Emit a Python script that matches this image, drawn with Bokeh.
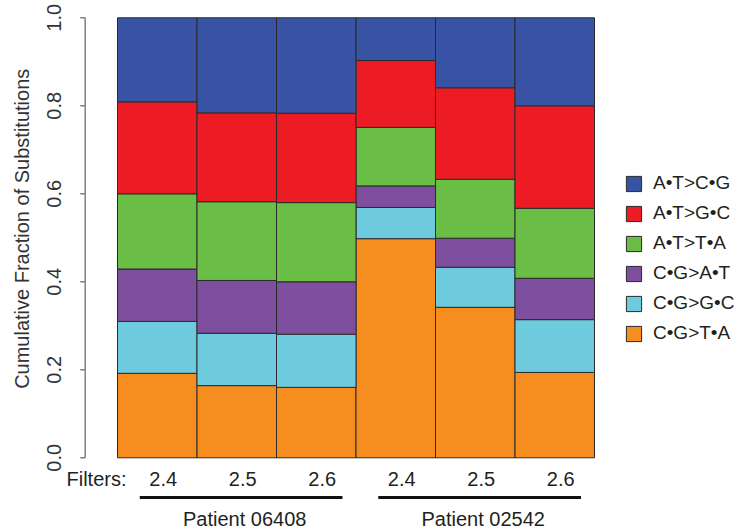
import math
from bokeh.plotting import figure
from bokeh.models import ColumnDataSource, Legend, LegendItem, Range1d
from bokeh.embed import file_html
from bokeh.resources import INLINE

# ---------------- data ----------------
patients = ["Patient 06408", "Patient 02542"]
filters = ["2.4", "2.5", "2.6", "2.4", "2.5", "2.6"]
bar_patient = [0, 0, 0, 1, 1, 1]
filter_title = "Filters:"

# stacked bottom -> top
substitutions = ["C\u2022G>T\u2022A", "C\u2022G>G\u2022C", "C\u2022G>A\u2022T",
                 "A\u2022T>T\u2022A", "A\u2022T>G\u2022C", "A\u2022T>C\u2022G"]
cg_ta = [0.192, 0.164, 0.160, 0.498, 0.342, 0.194]
cg_gc = [0.118, 0.119, 0.121, 0.071, 0.091, 0.120]
cg_at = [0.119, 0.120, 0.119, 0.049, 0.066, 0.094]
at_ta = [0.171, 0.179, 0.180, 0.133, 0.134, 0.159]
at_gc = [0.209, 0.202, 0.203, 0.152, 0.208, 0.233]
at_cg = [0.191, 0.216, 0.217, 0.097, 0.159, 0.200]

y_ticks = [0.0, 0.2, 0.4, 0.6, 0.8, 1.0]
y_tick_labels = ["0.0", "0.2", "0.4", "0.6", "0.8", "1.0"]
y_title = "Cumulative Fraction of Substitutions"

colors = ["#f68e1f", "#6dcbdd", "#7f4f9f", "#6abd45", "#ed1c24", "#3853a4"]

FONT = "Liberation Sans"
TXT = "#231f20"
AXT = "#333333"
AXC = "#808080"

# ---------------- layout constants (pixels -> data units) ----------------
PX = 1 / 79.5       # one screen pixel in x data units
PY = 1 / 440.0      # one screen pixel in y data units

xs = list(range(1, len(filters) + 1))
keys = ["cg_ta", "cg_gc", "cg_at", "at_ta", "at_gc", "at_cg"]
source = ColumnDataSource(dict(x=xs, cg_ta=cg_ta, cg_gc=cg_gc, cg_at=cg_at,
                               at_ta=at_ta, at_gc=at_gc, at_cg=at_cg))

x0 = 0.5 - 117 * PX
x1 = 0.5 + (742 - 117) * PX
y1 = 1 + 17.3 * PY
y0 = -(532 - 457.3) * PY

p = figure(width=742, height=532, output_backend="svg", toolbar_location=None,
           x_range=Range1d(x0, x1), y_range=Range1d(y0, y1),
           x_axis_location=None, y_axis_location=None,
           min_border_left=0, min_border_right=0,
           min_border_top=0, min_border_bottom=0)
p.outline_line_color = None
p.background_fill_color = "white"
p.border_fill_color = "white"
p.grid.visible = False

renderers = p.vbar_stack(keys, x="x", width=1.0, color=colors, source=source,
                         line_color="#2a2a2a", line_width=1)

# ---------------- y axis (R style, drawn with glyphs) ----------------
axis_x = 0.5 - 32.3 * PX
p.segment(x0=[axis_x], y0=[y_ticks[0]], x1=[axis_x], y1=[y_ticks[-1]],
          line_color=AXC, line_width=1.5)
p.segment(x0=[axis_x - 5 * PX] * len(y_ticks), y0=y_ticks,
          x1=[axis_x] * len(y_ticks), y1=y_ticks,
          line_color=AXC, line_width=1.5)
p.text(x=[axis_x - 31.5 * PX] * len(y_ticks), y=y_ticks, text=y_tick_labels,
       angle=math.pi / 2, text_align="center", text_baseline="alphabetic",
       text_font_size="20px", text_color=AXT, text_font={"value": FONT})
p.text(x=[axis_x - 63 * PX], y=[0.5 + 9 * PY], text=[y_title],
       angle=math.pi / 2, text_align="center", text_baseline="alphabetic",
       text_font_size="20px", text_color=AXT, text_font={"value": FONT})

# ---------------- filter labels below bars ----------------
tick_y = -20.7 * PY
p.text(x=xs, y=[tick_y] * len(xs), text=filters, text_align="center",
       text_baseline="middle", text_font_size="20px", text_color=TXT,
       x_offset=6, text_font={"value": FONT})
p.text(x=[xs[0] - 0.5], y=[tick_y], text=[filter_title], text_align="right",
       text_baseline="middle", text_font_size="20px", text_color=TXT,
       x_offset=9, text_font={"value": FONT})

# ---------------- patient group underlines and names ----------------
line_y = -39.7 * PY
name_y = -61.5 * PY
gx0, gx1, gy, gc, gt = [], [], [], [], []
for gi, name in enumerate(patients):
    members = [x for x, b in zip(xs, bar_patient) if b == gi]
    gx0.append(min(members) - 0.5 + 0.28)
    gx1.append(max(members) + 0.5 - 0.17)
    gy.append(line_y)
    gc.append(sum(members) / len(members))
    gt.append(name)
p.segment(x0=gx0, y0=gy, x1=gx1, y1=gy, line_color="#111111", line_width=3)
p.text(x=gc, y=[name_y] * len(gc), text=gt, text_align="center",
       text_baseline="middle", text_font_size="20px", text_color=TXT,
       x_offset=8, text_font={"value": FONT})

# ---------------- legend ----------------
items = [LegendItem(label=s, renderers=[r])
         for s, r in zip(reversed(substitutions), reversed(renderers))]
legend = Legend(items=items, location=(624, 188), orientation="vertical",
                glyph_width=19, glyph_height=19, label_height=19, spacing=8,
                padding=0, margin=0, border_line_color=None,
                background_fill_alpha=0, label_standoff=10,
                label_text_font=FONT, label_text_font_size="19px",
                label_text_color=TXT)
p.add_layout(legend)

open("out.html", "w").write(file_html(p, INLINE))
